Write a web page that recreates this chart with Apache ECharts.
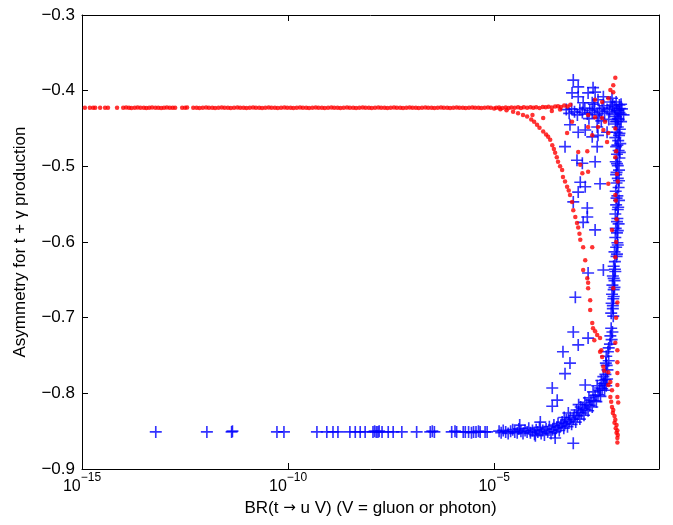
<!DOCTYPE html>
<html>
<head>
<meta charset="utf-8">
<script src="https://cdn.jsdelivr.net/npm/echarts@6/dist/echarts.min.js"></script>
<style>html,body{margin:0;padding:0;background:#fff}#c{width:673px;height:525px}</style>
</head>
<body>
<div id="c"></div>
<script>
// x values are log10(BR); y values are the asymmetry
var xTickExponents = [-15, -10, -5];
var yTickValues = [-0.9, -0.8, -0.7, -0.6, -0.5, -0.4, -0.3];

var redPlateau = [
[-14.93,-0.4225],[-14.81,-0.4225],[-14.73,-0.4225],[-14.68,-0.4225],[-14.56,-0.4225],[-14.44,-0.4225],[-14.37,-0.4225],[-14.15,-0.4225],
[-14.00,-0.4225],[-13.93,-0.4222],[-13.86,-0.4225],[-13.80,-0.4228],[-13.72,-0.4225],[-13.65,-0.4222],[-13.58,-0.4225],[-13.50,-0.4225],[-13.44,-0.4228],[-13.37,-0.4225],[-13.30,-0.4222],[-13.22,-0.4225],[-13.15,-0.4225],[-13.08,-0.4228],[-13.01,-0.4225],[-12.94,-0.4222],[-12.87,-0.4225],[-12.80,-0.4225],[-12.74,-0.4225],
[-12.57,-0.4225],[-12.50,-0.4225],[-12.45,-0.4222],
[-12.30,-0.4225],[-12.22,-0.4225],[-12.15,-0.4228],[-12.07,-0.4225],[-11.99,-0.4222],[-11.92,-0.4225],[-11.84,-0.4225],[-11.77,-0.4228],[-11.69,-0.4225],[-11.61,-0.4222],[-11.54,-0.4225],[-11.46,-0.4225],[-11.39,-0.4228],[-11.31,-0.4225],[-11.23,-0.4222],[-11.16,-0.4225],[-11.08,-0.4225],[-11.01,-0.4228],[-10.93,-0.4225],[-10.85,-0.4222],[-10.78,-0.4225],[-10.70,-0.4225],[-10.63,-0.4228],[-10.55,-0.4225],[-10.47,-0.4222],[-10.40,-0.4225],[-10.32,-0.4225],[-10.25,-0.4228],[-10.17,-0.4225],[-10.09,-0.4222],[-10.02,-0.4225],[-9.94,-0.4225],[-9.87,-0.4228],[-9.79,-0.4225],[-9.71,-0.4222],[-9.64,-0.4225],[-9.56,-0.4225],[-9.49,-0.4228],[-9.41,-0.4225],[-9.33,-0.4222],[-9.26,-0.4225],[-9.18,-0.4225],[-9.11,-0.4228],[-9.03,-0.4225],[-8.95,-0.4222],[-8.88,-0.4225],[-8.80,-0.4225],[-8.73,-0.4228],[-8.65,-0.4225],[-8.57,-0.4222],[-8.50,-0.4225],[-8.42,-0.4225],[-8.35,-0.4228],[-8.27,-0.4225],[-8.19,-0.4222],[-8.12,-0.4225],[-8.04,-0.4225],[-7.97,-0.4228],[-7.89,-0.4225],[-7.81,-0.4222],[-7.74,-0.4225],[-7.66,-0.4225],[-7.59,-0.4228],[-7.51,-0.4225],[-7.43,-0.4222],[-7.36,-0.4225],[-7.28,-0.4225],[-7.21,-0.4228],[-7.13,-0.4225],[-7.05,-0.4222],[-6.98,-0.4225],[-6.90,-0.4225],[-6.83,-0.4228],[-6.75,-0.4225],[-6.67,-0.4222],[-6.60,-0.4225],[-6.52,-0.4225],[-6.45,-0.4228],[-6.37,-0.4225],[-6.29,-0.4222],[-6.22,-0.4225],[-6.14,-0.4225],[-6.07,-0.4228],[-5.99,-0.4225],[-5.91,-0.4222],[-5.84,-0.4225],[-5.76,-0.4225],[-5.69,-0.4228],[-5.61,-0.4225],[-5.53,-0.4222],[-5.46,-0.4225],[-5.38,-0.4225],[-5.31,-0.4228],[-5.23,-0.4225],[-5.15,-0.4222],[-5.08,-0.4225]
];

var redUpper = [
[-4.95,-0.4225],[-4.88,-0.4222],[-4.80,-0.4228],[-4.72,-0.4222],[-4.65,-0.4230],[-4.58,-0.4222],[-4.50,-0.4225],[-4.42,-0.4220],[-4.35,-0.4228],[-4.28,-0.4220],[-4.20,-0.4225],[-4.12,-0.4218],[-4.05,-0.4225],[-3.98,-0.4220],[-3.90,-0.4228],[-3.82,-0.4215],[-3.75,-0.4220],[-3.68,-0.4212],[-3.60,-0.4222],[-3.52,-0.4210],[-3.45,-0.4205],[-3.38,-0.4215],[-3.30,-0.4195],[-3.22,-0.4210],[-3.15,-0.4185],
[-4.07,-0.4320],[-3.81,-0.4360],[-3.60,-0.4270],[-3.40,-0.4250]
];

var redCurve = [
[-5.00,-0.4235],[-4.85,-0.4245],[-4.70,-0.4260],[-4.54,-0.4278],[-4.42,-0.4300],[-4.30,-0.4320],[-4.20,-0.4340],[-4.10,-0.4380],[-4.03,-0.4410],[-3.96,-0.4450],[-3.90,-0.4490],[-3.81,-0.4540],[-3.74,-0.4580],[-3.69,-0.4610],[-3.64,-0.4650],[-3.59,-0.4720],[-3.55,-0.4770],[-3.52,-0.4820],[-3.48,-0.4880],[-3.45,-0.4940],[-3.40,-0.5000],[-3.35,-0.5050],[-3.33,-0.5140],[-3.28,-0.5200],[-3.23,-0.5270],[-3.19,-0.5320],[-3.16,-0.5380],[-3.11,-0.5470],[-3.08,-0.5580],[-3.03,-0.5670],[-2.99,-0.5750],[-2.96,-0.5810],[-2.93,-0.5890],[-2.91,-0.5970],[-2.84,-0.6070],[-2.79,-0.6240],[-2.84,-0.6370],[-2.74,-0.6480],[-2.72,-0.6540],[-2.72,-0.6610],[-2.67,-0.6770],[-2.67,-0.6900],[-2.60,-0.7140],[-2.55,-0.7180],[-2.50,-0.7230],[-2.43,-0.7270],[-2.43,-0.7450],[-2.38,-0.7520],[-2.35,-0.7650],[-2.23,-0.7720],[-2.18,-0.7850],
[-2.23,-0.7890],[-2.14,-0.7960],[-2.18,-0.8050],[-2.16,-0.8110],[-2.14,-0.8180],[-2.11,-0.8220],[-2.12,-0.8260],[-2.08,-0.8300],[-2.06,-0.8350],[-2.08,-0.8390],[-2.03,-0.8420],[-2.05,-0.8460],[-2.01,-0.8490],[-2.03,-0.8520],[-2.00,-0.8550],[-2.01,-0.8590],[-2.01,-0.8650],[-2.01,-0.7730],[-2.01,-0.7890],[-2.01,-0.8050],[-1.99,-0.8120],
[-2.62,-0.7070],[-2.57,-0.7300],[-2.40,-0.7430],[-2.33,-0.7700]
];

var redScatter = [
[-2.06,-0.383],[-2.11,-0.393],[-2.11,-0.402],[-2.18,-0.399],[-2.23,-0.410],[-2.55,-0.412],[-2.38,-0.415],[-2.72,-0.432],[-2.55,-0.435],[-2.38,-0.436],[-2.31,-0.441],[-2.72,-0.448],[-2.48,-0.448],[-2.35,-0.452],[-2.23,-0.456],[-3.11,-0.441],[-3.23,-0.456],[-2.62,-0.459],[-2.96,-0.481],[-2.74,-0.480],[-2.91,-0.498],[-2.86,-0.509],[-2.72,-0.507],[-2.06,-0.488],[-2.26,-0.468],[-2.23,-0.523],[-2.06,-0.538],[-2.14,-0.584],[-2.62,-0.607],[-2.11,-0.661],[-2.06,-0.733],[-2.01,-0.743],[-2.01,-0.759],[-2.06,-0.620],[-2.04,-0.700],[-2.01,-0.680],[-2.06,-0.450],[-2.00,-0.520],
[-2.04,-0.480],[-2.02,-0.510],[-2.05,-0.545],[-2.03,-0.570],[-2.04,-0.600]
];

var blueRow = [
[-13.21,-0.851],[-11.97,-0.851],[-11.37,-0.851],[-11.35,-0.850],[-10.27,-0.851],[-10.10,-0.851],[-9.30,-0.851],[-9.06,-0.851],[-8.91,-0.851],[-8.79,-0.851],[-8.50,-0.851],[-8.37,-0.851],[-8.25,-0.851],[-8.13,-0.851],[-7.94,-0.851],[-7.90,-0.850],[-7.86,-0.851],[-7.82,-0.851],[-7.79,-0.850],[-7.72,-0.851],[-7.57,-0.851],[-7.45,-0.851],[-7.24,-0.851],[-6.88,-0.851],[-6.55,-0.851],[-6.50,-0.850],[-6.45,-0.851],[-6.03,-0.851],[-5.95,-0.850],[-5.91,-0.851],[-5.75,-0.851],[-5.70,-0.851],[-5.62,-0.851],[-5.55,-0.852],[-5.50,-0.851],[-5.44,-0.851],[-5.38,-0.850],[-5.34,-0.851],[-5.22,-0.851],[-5.17,-0.851]
];

var blueRise = [
[-4.88,-0.850],[-4.83,-0.852],[-4.78,-0.849],[-4.72,-0.851],[-4.66,-0.853],[-4.60,-0.850],[-4.55,-0.848],[-4.50,-0.851],[-4.44,-0.852],[-4.40,-0.847],[-4.35,-0.850],[-4.30,-0.853],[-4.25,-0.849],[-4.20,-0.851],[-4.16,-0.846],[-4.12,-0.852],[-4.07,-0.849],[-4.02,-0.854],[-3.98,-0.848],[-3.94,-0.851],[-3.90,-0.845],[-3.86,-0.853],[-3.82,-0.849],[-3.78,-0.855],[-3.74,-0.847],[-3.70,-0.851],[-3.66,-0.844],[-3.62,-0.853],[-3.58,-0.848],[-3.55,-0.842],[-3.52,-0.851],[-3.48,-0.845],[-3.45,-0.840],[-3.42,-0.849],[-3.38,-0.843],[-3.35,-0.838],[-3.31,-0.846],[-3.28,-0.840],[-3.25,-0.835],[-3.22,-0.844],[-3.18,-0.837],[-3.15,-0.832],[-3.12,-0.841],[-3.08,-0.834],[-3.05,-0.829],[-3.02,-0.838],[-2.98,-0.830],[-2.95,-0.825],[-2.92,-0.834],[-2.88,-0.826],[-2.85,-0.820],[-2.82,-0.829],[-2.78,-0.821],[-2.75,-0.815],[-2.72,-0.823],[-2.68,-0.816],[-2.65,-0.809],[-2.62,-0.818],[-2.58,-0.810],[-2.55,-0.803],[-2.52,-0.811],[-2.48,-0.802],[-2.45,-0.796],[-2.42,-0.804],[-2.38,-0.794],[-2.35,-0.787],[-2.32,-0.796],[-2.30,-0.782],[-2.28,-0.790],
[-3.88,-0.838],[-4.38,-0.842],[-3.52,-0.859],[-3.08,-0.866],[-4.00,-0.856],[-3.20,-0.826],[-2.95,-0.815],
[-2.90,-0.818],[-2.70,-0.806],[-2.60,-0.798],[-2.50,-0.790],[-2.40,-0.783],[-3.00,-0.822],[-3.30,-0.832],[-2.80,-0.812]
];

var blueTop = [
[-3.25,-0.425],[-3.18,-0.430],[-3.12,-0.424],[-3.05,-0.428],[-2.98,-0.432],[-2.92,-0.425],[-2.86,-0.429],[-2.80,-0.423],[-2.74,-0.431],[-2.68,-0.426],[-2.62,-0.429],[-2.56,-0.424],[-2.50,-0.432],[-2.44,-0.427],[-2.38,-0.423],[-2.32,-0.430],[-2.26,-0.425],[-2.20,-0.428],[-2.14,-0.423],[-2.08,-0.431],[-2.02,-0.426],[-1.96,-0.429],[-1.90,-0.424],[-1.86,-0.432],
[-2.58,-0.418],[-2.46,-0.436],[-2.34,-0.420],[-2.22,-0.438],[-2.12,-0.419],[-2.00,-0.437],[-1.92,-0.418],[-2.70,-0.437],[-2.40,-0.440],[-2.05,-0.441]
];

var blueColumn = [
[-2.04,-0.415],[-1.96,-0.419],[-2.08,-0.421],[-1.99,-0.426],[-1.93,-0.431],[-2.05,-0.434],[-1.98,-0.438],[-1.92,-0.441],[-2.06,-0.444],[-2.00,-0.448],[-1.95,-0.451],[-2.03,-0.455],[-1.97,-0.459],[-2.06,-0.462],[-1.99,-0.466],[-1.94,-0.470],[-2.04,-0.474],[-1.98,-0.479],[-2.02,-0.484],[-1.96,-0.489],[-2.05,-0.494],[-2.00,-0.499],[-1.97,-0.505],[-2.04,-0.511],[-2.00,-0.516],[-2.03,-0.522],[-1.98,-0.528],[-2.05,-0.533],[-2.01,-0.539],[-1.97,-0.545],[-2.04,-0.551],[-2.00,-0.557],[-2.06,-0.563],[-2.01,-0.569],[-1.98,-0.576],[-2.05,-0.582],[-2.02,-0.588],[-2.06,-0.594],[-2.01,-0.601],[-2.04,-0.607],[-2.08,-0.613],[-2.03,-0.619],[-2.07,-0.626],
[-1.95,-0.4235],[-2.02,-0.4405],[-1.96,-0.4565],[-2.01,-0.4720],[-1.95,-0.4815],[-2.02,-0.4965],[-2.03,-0.5080],[-1.97,-0.5190],[-2.03,-0.5420],[-1.99,-0.5540],[-2.02,-0.5730],[-2.00,-0.5850],[-2.00,-0.6040],[-2.02,-0.6160],
[-2.10,-0.632],[-2.06,-0.639],[-2.12,-0.645],[-2.08,-0.651],[-2.13,-0.657],[-2.10,-0.663],[-2.14,-0.669],[-2.11,-0.675],[-2.15,-0.681],[-2.12,-0.688],[-2.16,-0.694],
[-2.07,-0.6360],[-2.10,-0.6480],[-2.08,-0.6600],[-2.10,-0.6720],[-2.12,-0.6840],
[-2.11,-0.698],[-2.16,-0.714],[-2.13,-0.719],[-2.18,-0.724],[-2.15,-0.729],[-2.19,-0.735],
[-2.24,-0.745],[-2.28,-0.751],[-2.22,-0.757],[-2.27,-0.763],[-2.25,-0.769],[-2.30,-0.775],[-2.26,-0.781],[-2.32,-0.787],[-2.22,-0.740],[-2.29,-0.760],[-2.35,-0.778]
];

var blueScatter = [
[-3.08,-0.386],[-2.96,-0.395],[-2.60,-0.396],[-3.11,-0.403],[-2.96,-0.408],[-2.72,-0.403],[-2.55,-0.402],[-2.35,-0.408],[-2.18,-0.415],[-2.14,-0.410],[-2.84,-0.416],[-2.62,-0.416],[-2.48,-0.412],
[-3.16,-0.445],[-2.96,-0.455],[-2.79,-0.452],[-2.50,-0.448],[-2.62,-0.461],[-2.48,-0.459],[-2.26,-0.455],[-3.28,-0.474],[-2.50,-0.474],[-2.55,-0.494],[-2.99,-0.492],[-2.86,-0.496],
[-2.91,-0.521],[-2.79,-0.527],[-2.43,-0.523],[-2.96,-0.534],[-3.08,-0.547],[-2.74,-0.555],[-2.74,-0.567],[-2.84,-0.574],[-2.55,-0.584],[-2.72,-0.641],[-2.35,-0.637],
[-3.03,-0.673],[-3.08,-0.719],[-2.72,-0.727],[-2.96,-0.736],[-3.33,-0.745],[-3.16,-0.760],[-3.28,-0.774],[-3.59,-0.793],[-2.79,-0.789],[-2.43,-0.793],
[-3.47,-0.809],[-3.59,-0.817]
];

var redPoints = redPlateau.concat(redUpper, redCurve, redScatter);
var bluePoints = blueRow.concat(blueRise, blueTop, blueColumn, blueScatter);

var FONT = 'Liberation Sans, Arial, Helvetica, sans-serif';
function yFmt(v){ return (v < 0 ? '\u2212' : '') + Math.abs(v).toFixed(1); }
function xFmt(v){
  if (xTickExponents.indexOf(Math.round(v)) < 0) return '';
  return '{b|10}{s|\u2212' + Math.abs(Math.round(v)) + '}';
}
var plusPath = 'path://M4.75,0h1.5v4.75h4.75v1.5h-4.75v4.75h-1.5v-4.75h-4.75v-1.5h4.75z';

var chart = echarts.init(document.getElementById('c'), null, {renderer: 'canvas'});
chart.setOption({
  animation: false,
  backgroundColor: '#fff',
  grid: {left: 82, right: 14, top: 15, bottom: 56, containLabel: false},
  xAxis: [{
    type: 'value', min: -15, max: -1, interval: 5,
    name: 'BR(t {a|\u2192} u V) (V = gluon or photon)', nameLocation: 'middle', nameGap: 29,
    nameTextStyle: {fontFamily: FONT, fontSize: 17, color: '#000',
      rich: {a: {fontFamily: 'DejaVu Sans', fontSize: 15, color: '#000'}}},
    axisLine: {show: true, lineStyle: {color: '#000', width: 1}},
    axisTick: {show: true, inside: true, length: 6, lineStyle: {color: '#000'}},
    axisLabel: {show: true, margin: 3, formatter: xFmt, showMaxLabel: false,
      rich: {b: {fontFamily: FONT, fontSize: 16, color: '#000', lineHeight: 30},
             s: {fontFamily: FONT, fontSize: 12, color: '#000', lineHeight: 8, verticalAlign: 'top'}}},
    splitLine: {show: false}
  }, {
    type: 'value', position: 'top', min: -15, max: -1, interval: 5,
    axisLine: {show: true, onZero: false, lineStyle: {color: '#000', width: 1}},
    axisTick: {show: true, inside: true, length: 6, lineStyle: {color: '#000'}},
    axisLabel: {show: false}, splitLine: {show: false}
  }],
  yAxis: [{
    type: 'value', min: -0.9, max: -0.3, interval: 0.1,
    name: 'Asymmetry for t + \u03b3 production', nameLocation: 'middle', nameGap: 53,
    nameTextStyle: {fontFamily: FONT, fontSize: 17, color: '#000'},
    axisLine: {show: true, onZero: false, lineStyle: {color: '#000', width: 1}},
    axisTick: {show: true, inside: true, length: 6, lineStyle: {color: '#000'}},
    axisLabel: {show: true, margin: 7, formatter: yFmt, fontFamily: FONT, fontSize: 17, color: '#000'},
    splitLine: {show: false}
  }, {
    type: 'value', position: 'right', min: -0.9, max: -0.3, interval: 0.1,
    axisLine: {show: true, onZero: false, lineStyle: {color: '#000', width: 1}},
    axisTick: {show: true, inside: true, length: 6, lineStyle: {color: '#000'}},
    axisLabel: {show: false}, splitLine: {show: false}
  }],
  series: [{
    type: 'scatter', xAxisIndex: 0, yAxisIndex: 0,
    data: bluePoints, symbol: plusPath, symbolSize: 12,
    itemStyle: {color: '#0000ff'}
  }, {
    type: 'scatter', xAxisIndex: 0, yAxisIndex: 0,
    data: redPoints, symbol: 'circle', symbolSize: 4.5,
    itemStyle: {color: '#ff0000'}
  }]
});
</script>
</body>
</html>
